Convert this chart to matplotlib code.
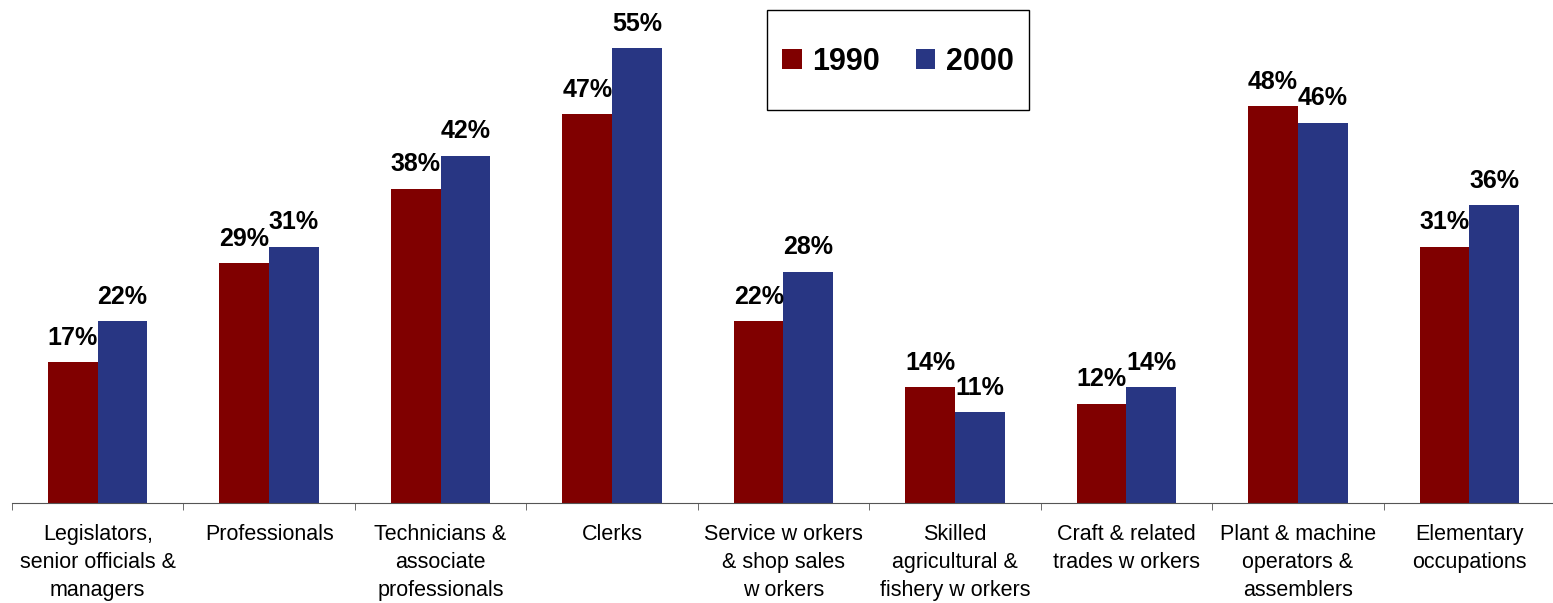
import numpy as np
import matplotlib.pyplot as plt
from matplotlib.ticker import FixedLocator
from matplotlib.patches import Rectangle

kategoriler = ["Legislators,\nsenior officials &\nmanagers", "Professionals",
               "Technicians &\nassociate\nprofessionals", "Clerks",
               "Service w orkers\n& shop sales\nw orkers", "Skilled\nagricultural &\nfishery w orkers",
               "Craft & related\ntrades w orkers", "Plant & machine\noperators &\nassemblers",
               "Elementary\noccupations"]
y1990 = [17, 29, 38, 47, 22, 14, 12, 48, 31]
y2000 = [22, 31, 42, 55, 28, 11, 14, 46, 36]

plt.rcParams['font.family'] = ['Liberation Sans', 'DejaVu Sans']

fig = plt.figure(figsize=(15.53, 6.03), dpi=100)
ax = fig.add_axes([12/1553, 100/603, 1543/1553, 496/603])

x = np.arange(len(kategoriler))
w = 0.29
b1 = ax.bar(x - w/2, y1990, w, color="#800000", label="1990")
b2 = ax.bar(x + w/2, y2000, w, color="#283683", label="2000")

for bars, vals in [(b1, y1990), (b2, y2000)]:
    for b, v in zip(bars, vals):
        ax.annotate("%d%%" % v, (b.get_x() + b.get_width()/2, v), xytext=(0, 9),
                    textcoords="offset points", ha="center", va="bottom",
                    fontsize=18, fontweight="bold")

ax.set_xlim(-0.5, len(kategoriler) - 0.5)
ax.set_ylim(0, 60)
ax.set_yticks([])
for s in ["top", "right", "left"]:
    ax.spines[s].set_visible(False)
ax.spines["bottom"].set_color("#555555")
ax.set_xticks(x)
ax.set_xticklabels(kategoriler, fontsize=15.5, linespacing=1.45, va="top")
ax.tick_params(axis="x", which="major", length=0, pad=15)
ax.xaxis.set_minor_locator(FixedLocator(np.arange(-0.5, len(kategoriler), 1)))
ax.tick_params(axis="x", which="minor", length=5, color="#555555")

# legende kutusu
leg = fig.legend(loc="center", bbox_to_anchor=(898/1553, 1 - 62/603), ncol=2,
                 prop={"size": 22, "weight": "bold"}, frameon=False,
                 handlelength=0.65, handleheight=0.65, handletextpad=0.35,
                 columnspacing=1.15)
fig.patches.append(Rectangle((767/1553, 1 - 110/603), 262/1553, 100/603,
                             transform=fig.transFigure, fill=False,
                             edgecolor="black", linewidth=1.0))

plt.savefig("out.png", dpi=100)
